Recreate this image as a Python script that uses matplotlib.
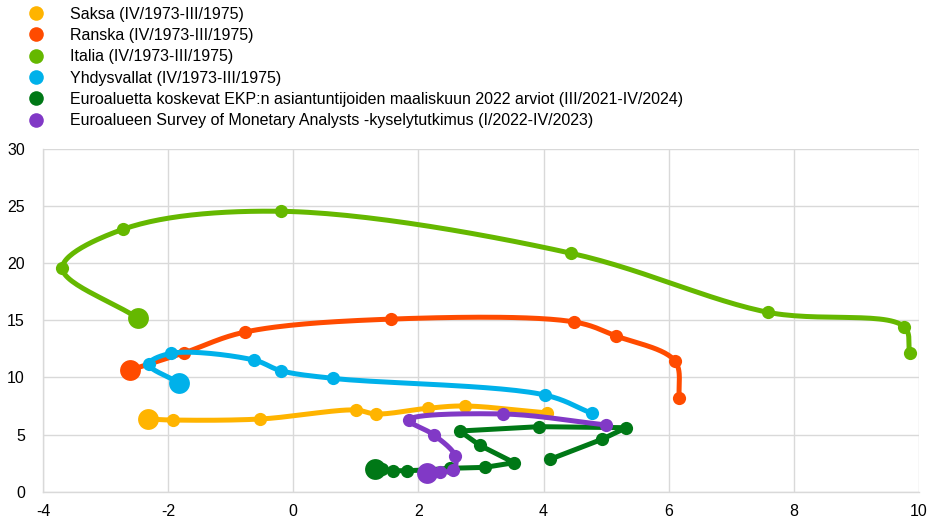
import numpy as np
import matplotlib
matplotlib.use("Agg")
import matplotlib.pyplot as plt
from matplotlib.lines import Line2D

plt.rcParams["font.family"] = ["Liberation Sans", "DejaVu Sans"]
plt.rcParams["axes.unicode_minus"] = False

# Growth (x) and inflation (y) paths, chronological order; last point is the latest quarter
labels = [
    "Saksa (IV/1973-III/1975)",
    "Ranska (IV/1973-III/1975)",
    "Italia (IV/1973-III/1975)",
    "Yhdysvallat (IV/1973-III/1975)",
    "Euroaluetta koskevat EKP:n asiantuntijoiden maaliskuun 2022 arviot (III/2021-IV/2024)",
    "Euroalueen Survey of Monetary Analysts -kyselytutkimus (I/2022-IV/2023)",
]
colors = ["#FFB400", "#FF4B00", "#65B800", "#00B1EA", "#007816", "#8139C6"]

saksa_x = [4.05, 2.74, 2.15, 1.32, 1.00, -0.53, -1.92, -2.32]
saksa_y = [6.90, 7.50, 7.30, 6.80, 7.15, 6.36, 6.27, 6.36]

ranska_x = [6.17, 6.10, 5.16, 4.49, 1.56, -0.77, -1.74, -2.61]
ranska_y = [8.22, 11.43, 13.62, 14.85, 15.10, 13.97, 12.16, 10.64]

italia_x = [9.85, 9.76, 7.58, 4.44, -0.19, -2.72, -3.69, -2.48]
italia_y = [12.14, 14.44, 15.70, 20.86, 24.53, 22.96, 19.57, 15.17]

usa_x = [4.77, 4.02, 0.63, -0.20, -0.63, -1.95, -2.31, -1.83]
usa_y = [6.86, 8.46, 9.92, 10.59, 11.52, 12.11, 11.15, 9.54]

ekp_x = [4.10, 4.93, 5.32, 3.93, 2.66, 2.98, 3.53, 3.06, 2.50, 2.12, 1.81, 1.60, 1.41, 1.31]
ekp_y = [2.83, 4.58, 5.60, 5.69, 5.31, 4.06, 2.54, 2.13, 2.05, 1.90, 1.84, 1.84, 1.96, 2.01]

sma_x = [5.00, 3.35, 1.85, 2.25, 2.59, 2.56, 2.34, 2.14]
sma_y = [5.84, 6.80, 6.27, 4.96, 3.12, 1.90, 1.75, 1.66]

series = [
    (saksa_x, saksa_y, True),
    (ranska_x, ranska_y, True),
    (italia_x, italia_y, True),
    (usa_x, usa_y, True),
    (ekp_x, ekp_y, False),
    (sma_x, sma_y, True),
]


def catmull_rom(x, y, n=30):
    """Smooth curve through the given points (centripetal Catmull-Rom)."""
    p = np.column_stack([x, y]).astype(float)
    # scale axes similarly to on-screen units so smoothing looks even
    s = np.array([62.5, 11.43])
    q = p * s
    q = np.vstack([2 * q[0] - q[1], q, 2 * q[-1] - q[-2]])
    out = []
    for i in range(1, len(q) - 2):
        p0, p1, p2, p3 = q[i - 1], q[i], q[i + 1], q[i + 2]
        def tj(ti, a, b):
            return ti + max(np.linalg.norm(b - a), 1e-6) ** 0.5
        t0 = 0.0
        t1 = tj(t0, p0, p1)
        t2 = tj(t1, p1, p2)
        t3 = tj(t2, p2, p3)
        t = np.linspace(t1, t2, n)[:, None]
        a1 = (t1 - t) / (t1 - t0) * p0 + (t - t0) / (t1 - t0) * p1
        a2 = (t2 - t) / (t2 - t1) * p1 + (t - t1) / (t2 - t1) * p2
        a3 = (t3 - t) / (t3 - t2) * p2 + (t - t2) / (t3 - t2) * p3
        b1 = (t2 - t) / (t2 - t0) * a1 + (t - t0) / (t2 - t0) * a2
        b2 = (t3 - t) / (t3 - t1) * a2 + (t - t1) / (t3 - t1) * a3
        c = (t2 - t) / (t2 - t1) * b1 + (t - t1) / (t2 - t1) * b2
        out.append(c if i == 1 else c[1:])
    c = np.vstack(out) / s
    return c[:, 0], c[:, 1]


fig = plt.figure(figsize=(9.38, 5.22), dpi=100)
ax = fig.add_axes([0.0458, 0.058, 0.934, 0.657])

for k, ((x, y, smooth), col) in enumerate(zip(series, colors)):
    z = 3 + k
    if smooth:
        cx, cy = catmull_rom(x, y)
    else:
        cx, cy = x, y
    ax.plot(cx, cy, color=col, lw=3.6, solid_capstyle="round", zorder=z)
    ax.plot(x[:-1], y[:-1], "o", color=col, ms=9.5, mew=0, zorder=z)
    ax.plot(x[-1:], y[-1:], "o", color=col, ms=15, mew=0, zorder=z)

ax.set_xlim(-4, 10)
ax.set_ylim(0, 30)
ax.set_xticks(np.arange(-4, 11, 2))
ax.set_yticks(np.arange(0, 31, 5))
ax.grid(True, color="#D9D9D9", lw=1)
ax.set_axisbelow(True)
for sp in ["top", "right"]:
    ax.spines[sp].set_visible(False)
for sp in ["left", "bottom"]:
    ax.spines[sp].set_color("#D9D9D9")
    ax.spines[sp].set_linewidth(1)
ax.tick_params(length=0, labelsize=11.5, colors="#000000")
ax.tick_params(axis="x", pad=9)
ax.tick_params(axis="y", pad=13)

handles = [Line2D([], [], marker="o", ls="none", color=c, ms=10.5, mew=0) for c in colors]
fig.legend(handles, labels, loc="upper left", bbox_to_anchor=(0.0299, 0.9875),
           frameon=False, fontsize=11.5, handletextpad=1.6, labelspacing=0.40,
           handlelength=1.0, borderaxespad=0, borderpad=0)

fig.savefig("out.png", dpi=100)
